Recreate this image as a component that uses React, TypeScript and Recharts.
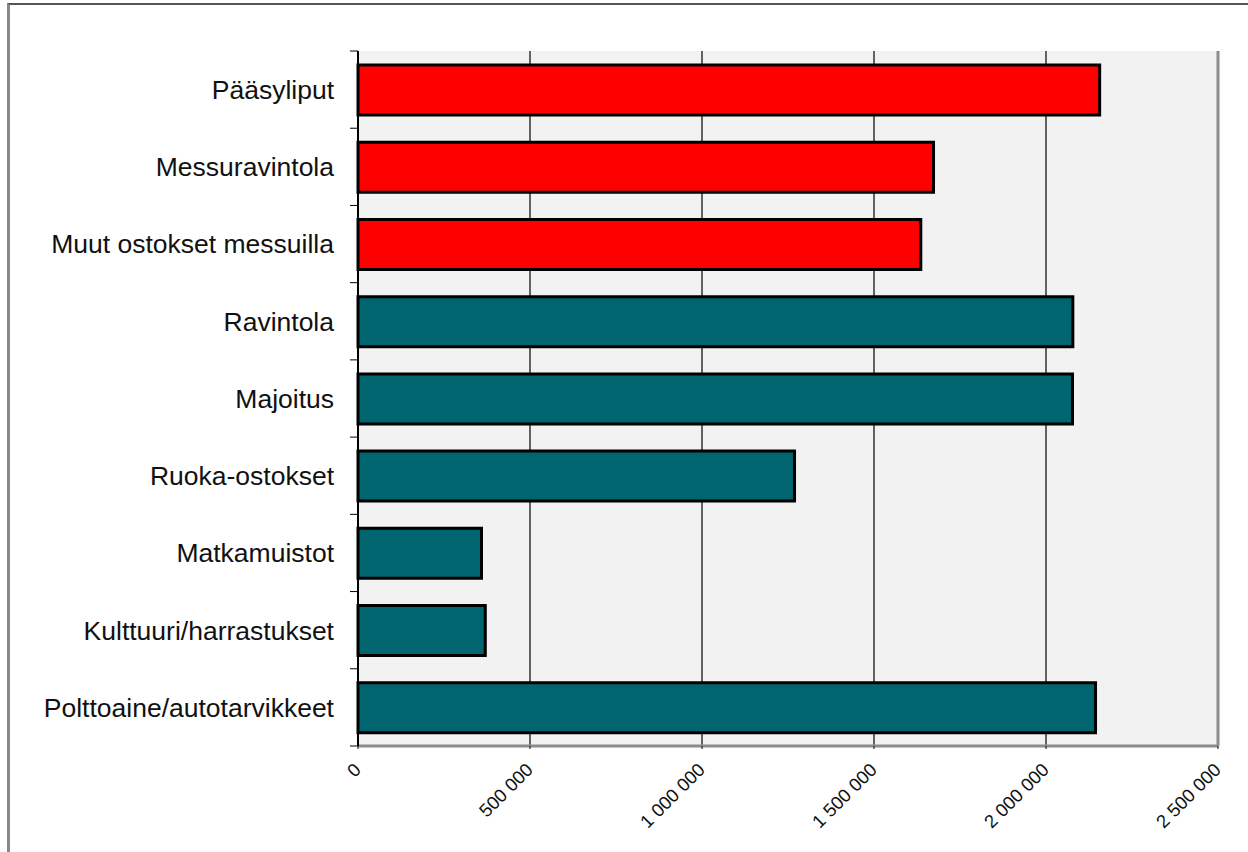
import React from "react";
import {
  BarChart,
  Bar,
  XAxis,
  YAxis,
  CartesianGrid,
  ReferenceLine,
  Cell,
} from "recharts";

// spending categories, top to bottom
const CATEGORIES = [
  "Pääsyliput",
  "Messuravintola",
  "Muut ostokset messuilla",
  "Ravintola",
  "Majoitus",
  "Ruoka-ostokset",
  "Matkamuistot",
  "Kulttuuri/harrastukset",
  "Polttoaine/autotarvikkeet",
];

// euros
const VALUES = [2156000, 1673000, 1636000, 2078000, 2077000, 1269000, 359000, 370000, 2144000];

// spent at the fair itself vs. elsewhere
const GROUPS = ["messu", "messu", "messu", "muu", "muu", "muu", "muu", "muu", "muu"];

const X_TICKS = [0, 500000, 1000000, 1500000, 2000000, 2500000];

const data = CATEGORIES.map((name, i) => ({ name, value: VALUES[i], group: GROUPS[i] }));

const GROUP_COLOR: Record<string, string> = { messu: "#ff0000", muu: "#00656f" };

const FONT = '"Liberation Sans", Arial, sans-serif';

const fmt = (v: number) => String(v).replace(/\B(?=(\d{3})+(?!\d))/g, " ");

const BAND_FALLBACK = 695 / CATEGORIES.length / 2;

function CategoryTick(props: any) {
  const { x, y, payload, index } = props;
  const half = payload?.offset ?? BAND_FALLBACK;
  const axisX = x + 24;
  return (
    <g>
      <line x1={axisX - 8} x2={axisX} y1={y - half} y2={y - half} stroke="#000" strokeWidth={1} />
      {index === CATEGORIES.length - 1 && (
        <line x1={axisX - 8} x2={axisX} y1={y + half} y2={y + half} stroke="#000" strokeWidth={1} />
      )}
      <text x={x} y={y} dy="0.355em" textAnchor="end" fontSize={26.5} fontFamily={FONT} fill="#111">
        {payload.value}
      </text>
    </g>
  );
}

function ValueTick(props: any) {
  const { x, y, payload } = props;
  const ax = x + 4;
  const ay = y + 20;
  return (
    <text
      x={ax}
      y={ay}
      transform={`rotate(-45, ${ax}, ${ay})`}
      textAnchor="end"
      style={{ fontSize: 18.5, fontFamily: FONT }}
      fill="#111"
    >
      {fmt(payload.value)}
    </text>
  );
}

const NoTick = () => <g />;

export default function App() {
  return (
    <div style={{ position: "absolute", left: 0, top: 0, width: 1248, height: 852, background: "#fff" }}>
      <div
        style={{
          position: "absolute",
          left: 7,
          top: 3,
          right: 0,
          bottom: 0,
          borderTop: "2px solid #555",
          borderLeft: "3px solid #888",
        }}
      />
      <div style={{ position: "absolute", left: 0, top: 0 }}>
        <BarChart
          width={1248}
          height={852}
          data={data}
          layout="vertical"
          margin={{ top: 51, right: 30, bottom: 0, left: 0 }}
        >
          <CartesianGrid horizontal={false} stroke="#000" strokeWidth={1.2} fill="#f2f2f2" />
          <XAxis
            type="number"
            domain={[0, 2500000]}
            ticks={X_TICKS}
            interval={0}
            height={106}
            tickSize={3}
            tickMargin={2}
            tickLine={{ stroke: "#000" }}
            axisLine={{ stroke: "#8c8c8c", strokeWidth: 3 }}
            tick={<ValueTick />}
          />
          <XAxis
            xAxisId="top"
            orientation="top"
            type="number"
            domain={[0, 2500000]}
            ticks={X_TICKS}
            interval={0}
            height={0}
            tickSize={6}
            tickLine={{ stroke: "#000" }}
            axisLine={{ stroke: "#555", strokeWidth: 2 }}
            tick={<NoTick />}
          />
          <YAxis
            type="category"
            dataKey="name"
            width={358}
            interval={0}
            tickSize={8}
            tickMargin={16}
            tickLine={false}
            axisLine={{ stroke: "#000", strokeWidth: 2 }}
            tick={<CategoryTick />}
          />
          <ReferenceLine x={2500000} stroke="#8c8c8c" strokeWidth={3} />
          <Bar dataKey="value" barSize={50} stroke="#000" strokeWidth={3} isAnimationActive={false}>
            {data.map((d, i) => (
              <Cell key={i} fill={GROUP_COLOR[d.group]} />
            ))}
          </Bar>
        </BarChart>
      </div>
    </div>
  );
}
